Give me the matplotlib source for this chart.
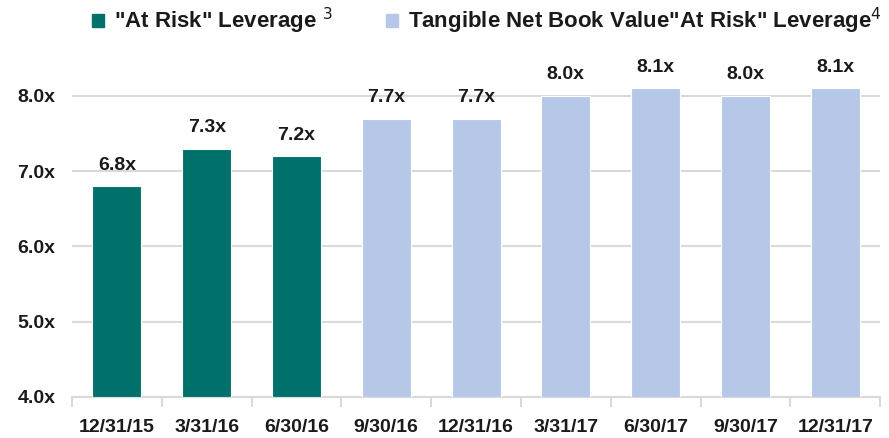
import numpy as np
import matplotlib.pyplot as plt
from matplotlib.patches import Patch

# data
dates = ['12/31/15', '3/31/16', '6/30/16', '9/30/16', '12/31/16',
         '3/31/17', '6/30/17', '9/30/17', '12/31/17']
leverage = [6.8, 7.3, 7.2, 7.7, 7.7, 8.0, 8.1, 8.0, 8.1]
# first three quarters are "At Risk" leverage, the rest tangible NBV based
is_tangible = [False, False, False, True, True, True, True, True, True]
series_names = ['"At Risk" Leverage $^{3}$', 'Tangible Net Book Value"At Risk" Leverage$^{4}$']
y_ticks = [4.0, 5.0, 6.0, 7.0, 8.0]

teal = '#00706A'
light_blue = '#B7C7E8'
grid_gray = '#D9D9D9'
text_color = '#1A1A1A'

plt.rcParams['font.family'] = ['Liberation Sans', 'DejaVu Sans']

fig = plt.figure(figsize=(8.89, 4.38), dpi=100)
ax = fig.add_axes([0.081, 0.094, 0.909, 0.79])

base = 4.0
x = np.arange(len(dates))
colors = [light_blue if t else teal for t in is_tangible]
heights = [v - base for v in leverage]
bars = ax.bar(x, heights, bottom=base, width=0.545, color=colors,
              edgecolor='white', linewidth=0.8, zorder=3)

ax.bar_label(bars, labels=['%.1fx' % v for v in leverage], padding=9,
             fontsize=14, fontweight='bold', color=text_color)

ax.set_xlim(-0.5, len(dates) - 0.5)
ax.set_ylim(base, 8.6)
ax.set_yticks(y_ticks)
ax.set_yticklabels(['%.1fx' % t for t in y_ticks], fontsize=14,
                   fontweight='bold', color=text_color)
ax.set_xticks(x)
ax.set_xticklabels(dates, fontsize=14, fontweight='bold', color=text_color)
ax.set_xticks(np.arange(-0.5, len(dates)), minor=True)
ax.tick_params(axis='x', which='major', length=0, pad=16)
ax.tick_params(axis='x', which='minor', length=7, color=grid_gray, width=1.5)
ax.tick_params(axis='y', length=0, pad=12)

ax.yaxis.grid(True, color=grid_gray, linewidth=1.5, zorder=0)
for s in ['top', 'right', 'left']:
    ax.spines[s].set_visible(False)
ax.spines['bottom'].set_color(grid_gray)
ax.spines['bottom'].set_linewidth(1.5)

handles = [Patch(color=teal), Patch(color=light_blue)]
leg = fig.legend(handles, series_names, loc='center left', bbox_to_anchor=(0.103, 0.952),
                 ncol=2, frameon=False, handlelength=0.55, handleheight=0.55,
                 handletextpad=0.45, columnspacing=2.4, borderaxespad=0, borderpad=0,
                 prop={'size': 16, 'weight': 'bold'})
for t in leg.get_texts():
    t.set_color(text_color)

fig.savefig('out.png', dpi=100)
